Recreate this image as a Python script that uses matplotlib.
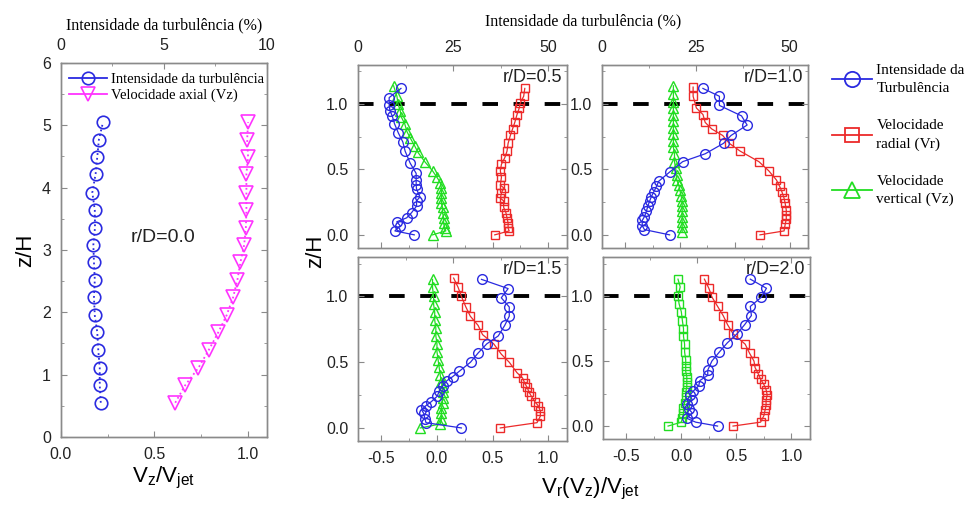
import matplotlib
matplotlib.use("Agg")
import matplotlib.pyplot as plt
from matplotlib.lines import Line2D
from matplotlib.ticker import MultipleLocator, FormatStrFormatter

plt.rcParams["font.family"] = ["Liberation Sans", "DejaVu Sans"]
SERIF = ["Liberation Serif", "DejaVu Serif"]

BLUE = "#2a2ae0"
RED = "#ec2a2a"
GREEN = "#22dd22"
MAGENTA = "#ff33ff"

# r/D = 0.0 : axial profile
z_axis = [0.55, 0.83, 1.11, 1.39, 1.68, 1.95, 2.24, 2.52, 2.80, 3.08, 3.36, 3.64, 3.92, 4.22, 4.49, 4.77, 5.05]
ti_axis = [1.94, 1.89, 1.89, 1.82, 1.77, 1.65, 1.61, 1.65, 1.61, 1.58, 1.66, 1.65, 1.53, 1.69, 1.77, 1.85, 2.05]
vz_axis = [0.611, 0.664, 0.735, 0.789, 0.841, 0.885, 0.92, 0.943, 0.959, 0.979, 0.988, 0.991, 0.991, 0.991, 1.0, 0.995, 1.0]

# r/D = 0.5
z_ti_05 = [1.12, 1.05, 0.99, 0.95, 0.91, 0.85, 0.78, 0.71, 0.64, 0.55, 0.47, 0.42, 0.38, 0.35, 0.29, 0.26, 0.22, 0.17, 0.13, 0.10, 0.07, 0.03, 0.0]
ti_05 = [11.3, 8.2, 8.2, 8.4, 9.0, 9.6, 10.6, 11.8, 12.4, 13.7, 15.3, 15.3, 15.3, 15.4, 16.3, 15.4, 15.4, 14.1, 12.8, 10.2, 11.1, 9.7, 14.8]
z_vr_05 = [1.12, 1.06, 1.01, 0.97, 0.92, 0.86, 0.81, 0.76, 0.70, 0.64, 0.59, 0.54, 0.49, 0.44, 0.38, 0.36, 0.32, 0.28, 0.26, 0.21, 0.17, 0.13, 0.09, 0.05, 0.03, 0.0]
vr_05 = [0.79, 0.78, 0.75, 0.74, 0.72, 0.70, 0.68, 0.66, 0.64, 0.63, 0.61, 0.58, 0.57, 0.58, 0.57, 0.60, 0.58, 0.57, 0.60, 0.60, 0.62, 0.63, 0.64, 0.64, 0.65, 0.52]
z_vz_05 = [1.14, 1.06, 1.0, 0.95, 0.90, 0.85, 0.79, 0.74, 0.68, 0.63, 0.56, 0.49, 0.44, 0.40, 0.36, 0.32, 0.28, 0.24, 0.21, 0.17, 0.13, 0.09, 0.05, 0.03, 0.0]
vz_05 = [-0.39, -0.36, -0.35, -0.33, -0.32, -0.29, -0.27, -0.24, -0.20, -0.17, -0.11, -0.04, 0.0, 0.03, 0.04, 0.04, 0.04, 0.04, 0.05, 0.05, 0.06, 0.06, 0.07, 0.08, -0.04]

# r/D = 1.0
z_ti_10 = [1.12, 1.06, 0.99, 0.91, 0.84, 0.76, 0.70, 0.62, 0.56, 0.48, 0.41, 0.37, 0.33, 0.29, 0.26, 0.22, 0.18, 0.14, 0.11, 0.07, 0.04, 0.0]
ti_10 = [26.9, 31.3, 31.3, 37.2, 38.7, 34.4, 32.4, 27.5, 21.5, 18.0, 15.1, 14.5, 13.8, 13.1, 12.7, 12.2, 11.8, 11.3, 10.7, 10.7, 11.3, 18.0]
z_vr_10 = [1.13, 1.06, 0.97, 0.92, 0.86, 0.81, 0.76, 0.70, 0.64, 0.56, 0.49, 0.42, 0.37, 0.33, 0.28, 0.24, 0.19, 0.15, 0.12, 0.08, 0.03, 0.0]
vr_10 = [0.12, 0.12, 0.15, 0.21, 0.23, 0.29, 0.39, 0.45, 0.55, 0.72, 0.81, 0.88, 0.91, 0.93, 0.95, 0.96, 0.97, 0.97, 0.97, 0.96, 0.95, 0.73]
z_vz_10 = [1.14, 1.08, 1.02, 0.97, 0.92, 0.87, 0.82, 0.77, 0.72, 0.67, 0.62, 0.56, 0.51, 0.46, 0.42, 0.38, 0.34, 0.30, 0.26, 0.22, 0.18, 0.14, 0.10, 0.06, 0.02]
vz_10 = [-0.06, -0.06, -0.06, -0.06, -0.06, -0.06, -0.06, -0.06, -0.06, -0.06, -0.05, -0.05, -0.04, -0.03, -0.03, -0.01, 0.0, 0.01, 0.02, 0.02, 0.02, 0.02, 0.02, 0.02, 0.02]

# r/D = 1.5
z_ti_15 = [1.13, 1.06, 0.99, 0.92, 0.85, 0.78, 0.70, 0.64, 0.57, 0.50, 0.43, 0.39, 0.36, 0.32, 0.28, 0.24, 0.20, 0.17, 0.14, 0.11, 0.07, 0.04, 0.0]
ti_15 = [32.5, 39.5, 37.7, 39.8, 39.8, 38.6, 36.9, 33.9, 31.6, 29.6, 26.6, 24.9, 23.4, 22.3, 21.4, 20.8, 19.3, 17.9, 16.7, 17.3, 17.6, 17.9, 27.2]
z_vr_15 = [1.14, 1.07, 1.0, 0.92, 0.85, 0.78, 0.71, 0.64, 0.56, 0.50, 0.42, 0.38, 0.34, 0.31, 0.27, 0.24, 0.20, 0.17, 0.13, 0.09, 0.04, 0.0]
vr_15 = [0.15, 0.19, 0.22, 0.26, 0.30, 0.37, 0.41, 0.51, 0.58, 0.65, 0.72, 0.77, 0.79, 0.81, 0.83, 0.85, 0.88, 0.91, 0.93, 0.93, 0.90, 0.57]
z_vz_15 = [1.13, 1.07, 1.0, 0.94, 0.88, 0.82, 0.76, 0.70, 0.64, 0.58, 0.52, 0.46, 0.40, 0.35, 0.31, 0.27, 0.23, 0.19, 0.15, 0.11, 0.07, 0.03, 0.0]
vz_15 = [-0.04, -0.04, -0.03, -0.03, -0.02, -0.02, -0.01, -0.01, 0.0, 0.0, 0.01, 0.02, 0.03, 0.04, 0.05, 0.05, 0.05, 0.05, 0.04, 0.04, 0.04, 0.03, -0.15]

# r/D = 2.0
z_ti_20 = [1.13, 1.06, 0.99, 0.92, 0.85, 0.78, 0.71, 0.64, 0.57, 0.50, 0.43, 0.39, 0.35, 0.31, 0.27, 0.24, 0.20, 0.17, 0.13, 0.10, 0.06, 0.03, 0.0]
ti_20 = [39.1, 43.4, 42.0, 39.1, 39.4, 37.6, 35.6, 33.0, 30.9, 28.9, 27.8, 27.8, 25.7, 25.4, 24.0, 23.1, 23.7, 22.2, 22.8, 23.7, 22.2, 24.6, 30.4]
z_vr_20 = [1.13, 1.06, 0.99, 0.92, 0.85, 0.78, 0.71, 0.63, 0.56, 0.50, 0.45, 0.40, 0.36, 0.32, 0.28, 0.24, 0.20, 0.16, 0.12, 0.08, 0.03, 0.0]
vr_20 = [0.21, 0.25, 0.28, 0.33, 0.38, 0.42, 0.47, 0.58, 0.62, 0.66, 0.67, 0.70, 0.72, 0.75, 0.77, 0.78, 0.77, 0.77, 0.76, 0.75, 0.72, 0.47]
z_vz_20 = [1.13, 1.07, 1.0, 0.94, 0.88, 0.81, 0.75, 0.69, 0.63, 0.57, 0.51, 0.46, 0.42, 0.38, 0.34, 0.30, 0.26, 0.22, 0.18, 0.14, 0.10, 0.06, 0.03, 0.0]
vz_20 = [-0.03, -0.01, -0.03, -0.02, 0.0, 0.01, 0.02, 0.02, 0.03, 0.03, 0.04, 0.04, 0.04, 0.05, 0.05, 0.05, 0.04, 0.04, 0.03, 0.02, 0.02, 0.01, 0.0, -0.12]

panels = [
    ("r/D=0.5", z_ti_05, ti_05, z_vr_05, vr_05, z_vz_05, vz_05, "^"),
    ("r/D=1.0", z_ti_10, ti_10, z_vr_10, vr_10, z_vz_10, vz_10, "^"),
    ("r/D=1.5", z_ti_15, ti_15, z_vr_15, vr_15, z_vz_15, vz_15, "^"),
    ("r/D=2.0", z_ti_20, ti_20, z_vr_20, vr_20, z_vz_20, vz_20, "s"),
]

SPINE = "#8a8a8a"
TICKFS = 11.5


def style_axes(ax):
    for s in ax.spines.values():
        s.set_color(SPINE)
        s.set_linewidth(1.0)
    ax.tick_params(which="both", direction="in", color=SPINE, labelsize=TICKFS,
                   labelcolor="#222222", pad=7)
    ax.tick_params(which="major", length=4)
    ax.tick_params(which="minor", length=2.5)


fig = plt.figure(figsize=(9.65, 5.07), dpi=100)

# ---- left: axial profile ----
ax0 = fig.add_axes([0.063, 0.138, 0.2135, 0.738])
ax0.set_xlim(0, 1.1)
ax0.set_ylim(0, 6)
ax0.xaxis.set_major_locator(MultipleLocator(0.5))
ax0.xaxis.set_minor_locator(MultipleLocator(0.25))
ax0.xaxis.set_major_formatter(FormatStrFormatter("%.1f"))
ax0.yaxis.set_major_locator(MultipleLocator(1))
ax0.yaxis.set_minor_locator(MultipleLocator(0.5))
ax0.tick_params(which="both", right=True)
style_axes(ax0)
ax0.plot(vz_axis, z_axis, color=MAGENTA, ls=":", lw=1.3, marker="v", ms=10,
         mfc="none", mec=MAGENTA, mew=1.2)
ax0.text(0.545, 3.2, "r/D=0.0", fontsize=14, ha="center", va="center", color="#222222")
ax0.set_ylabel("z/H", fontsize=16, labelpad=4)
ax0.set_xlabel(r"V$_\mathregular{z}$/V$_\mathregular{jet}$", fontsize=16, labelpad=2)

ax0t = ax0.twiny()
ax0t.set_xlim(0, 10)
ax0t.xaxis.set_major_locator(MultipleLocator(5))
ax0t.xaxis.set_minor_locator(MultipleLocator(2.5))
style_axes(ax0t)
ax0t.plot(ti_axis, z_axis, color=BLUE, ls=":", lw=1.3, marker="o", ms=9,
          mfc="none", mec=BLUE, mew=1.2)
ax0t.set_xlabel("Intensidade da turbulência (%)", family=SERIF, fontsize=11.5, labelpad=6)

h0 = [Line2D([], [], color=BLUE, lw=1.3, marker="o", ms=9, mfc="none", mew=1.2),
      Line2D([], [], color=MAGENTA, lw=1.3, marker="v", ms=10, mfc="none", mew=1.2)]
ax0.legend(h0, ["Intensidade da turbulência", "Velocidade axial (Vz)"], loc="upper left",
           bbox_to_anchor=(-0.01, 1.0), frameon=False, prop={"family": SERIF, "size": 10.5},
           handlelength=2.6, handletextpad=0.3, labelspacing=0.15, borderaxespad=0.3)

# ---- right: 2x2 radial profiles ----
boxes = [
    [0.371, 0.511, 0.2166, 0.361],
    [0.624, 0.511, 0.2135, 0.361],
    [0.371, 0.130, 0.2166, 0.363],
    [0.625, 0.134, 0.2145, 0.359],
]

for i, (name, zt, ti, zr, vr, zz, vz, vz_marker) in enumerate(panels):
    ax = fig.add_axes(boxes[i])
    ax.set_xlim(-0.71, 1.17)
    ax.set_ylim(-0.1, 1.3)
    ax.xaxis.set_major_locator(MultipleLocator(0.5))
    ax.xaxis.set_minor_locator(MultipleLocator(0.25))
    ax.xaxis.set_major_formatter(FormatStrFormatter("%.1f"))
    ax.yaxis.set_major_locator(MultipleLocator(0.5))
    ax.yaxis.set_minor_locator(MultipleLocator(0.25))
    ax.yaxis.set_major_formatter(FormatStrFormatter("%.1f"))
    ax.tick_params(which="both", right=True)
    style_axes(ax)
    if i < 2:
        ax.tick_params(labelbottom=False)

    ax.axhline(1.0, color="black", lw=2.8, dashes=(4, 4), zorder=1)
    ax.plot(vr, zr, color=RED, lw=0.9, marker="s", ms=6, mfc="none", mec=RED, mew=1.0, zorder=3)
    ax.plot(vz, zz, color=GREEN, lw=0.9, marker=vz_marker, ms=7 if vz_marker == "^" else 6,
            mfc="none", mec=GREEN, mew=1.0, zorder=3)
    ax.text(0.975, 0.93, name, transform=ax.transAxes, ha="right", va="center",
            fontsize=13, color="#222222")

    axt = ax.twiny()
    axt.set_xlim(0, 55)
    axt.xaxis.set_major_locator(MultipleLocator(25))
    axt.xaxis.set_minor_locator(MultipleLocator(12.5))
    style_axes(axt)
    if i >= 2:
        axt.tick_params(labeltop=False)
    axt.plot(ti, zt, color=BLUE, lw=0.9, marker="o", ms=7, mfc="none", mec=BLUE, mew=1.0, zorder=3)

fig.text(0.604, 0.958, "Intensidade da turbulência (%)", family=SERIF, fontsize=11.5,
         ha="center", va="center")
fig.text(0.327, 0.505, "z/H", fontsize=16, rotation=90, ha="center", va="center")
fig.text(0.612, 0.035, r"V$_\mathregular{r}$(V$_\mathregular{z}$)/V$_\mathregular{jet}$",
         fontsize=16, ha="center", va="center")

hr = [Line2D([], [], color=BLUE, lw=1.3, marker="o", ms=11, mfc="none", mew=1.3),
      Line2D([], [], color=RED, lw=1.3, marker="s", ms=10, mfc="none", mew=1.3),
      Line2D([], [], color=GREEN, lw=1.3, marker="^", ms=12, mfc="none", mew=1.3)]
leg = fig.legend(hr, ["Intensidade da\nTurbulência", "Velocidade\nradial (Vr)", "Velocidade\nvertical (Vz)"],
                 loc="upper left", bbox_to_anchor=(0.848, 0.90), frameon=False,
                 prop={"family": SERIF, "size": 11}, handlelength=2.6, handletextpad=0.3,
                 labelspacing=1.6)
for t in leg.get_texts():
    t.set_linespacing(1.45)

fig.savefig("out.png", dpi=100)
